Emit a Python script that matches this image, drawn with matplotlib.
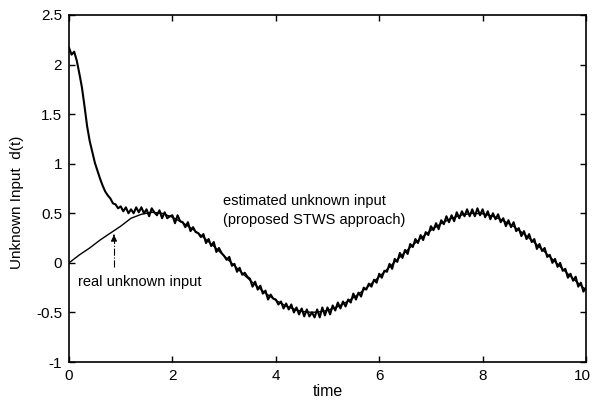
import numpy as np
import matplotlib
matplotlib.use("Agg")
import matplotlib.pyplot as plt
from matplotlib.transforms import ScaledTranslation

plt.rcParams['font.family'] = ['Liberation Sans', 'DejaVu Sans']

# real unknown input, sampled every 0.2 time units from 0 to 10
real_input = [0.00, 0.08, 0.15, 0.23, 0.30, 0.37, 0.45, 0.49, 0.51, 0.50,
              0.46, 0.404, 0.338, 0.258, 0.168, 0.071, -0.029, -0.128, -0.221, -0.306,
              -0.378, -0.436, -0.476, -0.497, -0.498, -0.479, -0.442, -0.386, -0.316, -0.232,
              -0.140, -0.042, 0.058, 0.156, 0.247, 0.328, 0.397, 0.449, 0.484, 0.499,
              0.495, 0.470, 0.427, 0.367, 0.292, 0.206, 0.111, 0.012, -0.087, -0.183,
              -0.272]

# estimated unknown input (proposed STWS approach), sampled every 0.05 time units
est_input = [
    2.17, 2.10, 2.13, 2.04, 1.91, 1.77, 1.58, 1.38, 1.23, 1.12,
    1.01, 0.93, 0.85, 0.78, 0.72, 0.68, 0.65, 0.60, 0.59, 0.55,
    0.57, 0.52, 0.56, 0.50, 0.54, 0.50, 0.56, 0.51, 0.56, 0.50,
    0.54, 0.47, 0.55, 0.51, 0.48, 0.53, 0.45, 0.51, 0.45, 0.47,
    0.48, 0.40, 0.48, 0.42, 0.41, 0.36, 0.41, 0.32, 0.36, 0.31,
    0.30, 0.26, 0.29, 0.20, 0.24, 0.17, 0.21, 0.11, 0.15, 0.10,
    0.07, 0.03, 0.06, -0.03, -0.01, -0.09, -0.05, -0.12, -0.10, -0.14,
    -0.16, -0.24, -0.19, -0.27, -0.23, -0.31, -0.28, -0.37, -0.32, -0.36,
    -0.37, -0.42, -0.39, -0.46, -0.41, -0.47, -0.42, -0.50, -0.45, -0.52,
    -0.46, -0.54, -0.47, -0.54, -0.50, -0.55, -0.47, -0.55, -0.45, -0.53,
    -0.45, -0.52, -0.43, -0.48, -0.40, -0.46, -0.39, -0.44, -0.37, -0.40,
    -0.31, -0.37, -0.30, -0.34, -0.25, -0.27, -0.21, -0.24, -0.17, -0.20,
    -0.11, -0.15, -0.08, -0.09, -0.01, -0.06, 0.04, 0.01, 0.10, 0.05,
    0.13, 0.09, 0.19, 0.16, 0.24, 0.20, 0.28, 0.23, 0.31, 0.28,
    0.37, 0.33, 0.40, 0.34, 0.43, 0.39, 0.47, 0.41, 0.48, 0.42,
    0.51, 0.45, 0.52, 0.47, 0.54, 0.47, 0.54, 0.47, 0.55, 0.48,
    0.54, 0.46, 0.52, 0.44, 0.50, 0.44, 0.49, 0.41, 0.45, 0.37,
    0.43, 0.36, 0.41, 0.32, 0.35, 0.27, 0.32, 0.24, 0.29, 0.21,
    0.24, 0.14, 0.19, 0.12, 0.15, 0.06, 0.08, 0.00, 0.04, -0.04,
    0.00, -0.08, -0.06, -0.15, -0.11, -0.18, -0.14, -0.24, -0.20, -0.29,
    -0.25]

x_ticks = [0, 2, 4, 6, 8, 10]
y_ticks = [-1, -0.5, 0, 0.5, 1, 1.5, 2, 2.5]
y_tick_labels = ['-1', '-0.5', '0', '0.5', '1', '1.5', '2', '2.5']

t_real = np.linspace(0, 10, len(real_input))
t_est = np.linspace(0, 10, len(est_input))

fig = plt.figure(figsize=(5.92, 4.01), dpi=100)
ax = fig.add_axes([69/592, 1 - 362/401, (586-69)/592, (362-15)/401])

ax.plot(t_real, real_input, color='black', lw=1.0)
ax.plot(t_est, est_input, color='black', lw=1.5)

ax.set_xlim(0, 10)
ax.set_ylim(-1, 2.5)
ax.set_xticks(x_ticks)
ax.set_yticks(y_ticks)
ax.set_yticklabels(y_tick_labels)
ax.tick_params(direction='in', length=4, width=1, top=True, right=True,
               labelsize=11, pad=5)
for s in ax.spines.values():
    s.set_linewidth(1.2)

# keep the last x tick label inside the figure
fig.canvas.draw()
last = ax.get_xticklabels()[-1]
last.set_transform(last.get_transform() + ScaledTranslation(-4/100, 0, fig.dpi_scale_trans))

# arrow to the real input
ax.plot([0.87, 0.87], [-0.04, 0.26], ls='-.', color='black', lw=0.8)
ax.annotate('', xy=(0.87, 0.31), xytext=(0.87, 0.25),
            arrowprops=dict(arrowstyle='-|>', color='black', lw=0.8,
                            mutation_scale=9))

ax.text(0.17, -0.19, 'real unknown input', fontsize=10.5, ha='left', va='center')
ax.text(2.98, 0.62, 'estimated unknown input', fontsize=10.5, ha='left', va='center')
ax.text(2.98, 0.43, '(proposed STWS approach)', fontsize=10.5, ha='left', va='center')

fig.text(17/592, 1 - 202/401, 'Unknown Input  d(t)', rotation=90,
         ha='center', va='center', fontsize=11)
fig.text(328/592, 1 - 392/401, 'time', ha='center', va='center', fontsize=11.5)

fig.savefig('out.png', dpi=100)
